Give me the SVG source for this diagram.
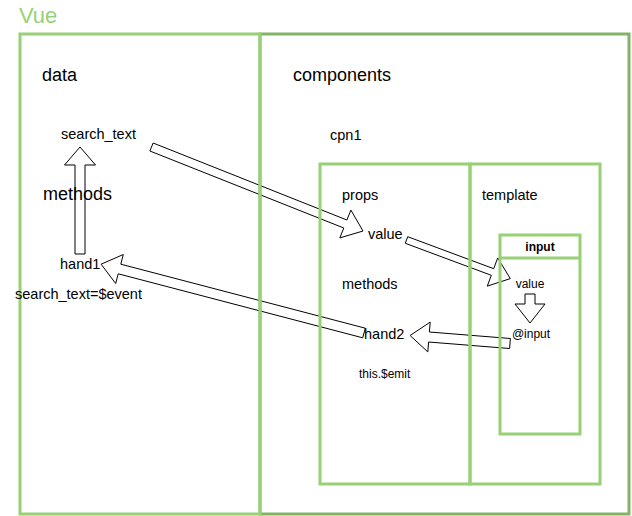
<svg xmlns="http://www.w3.org/2000/svg" width="632" height="516" viewBox="0 0 632 516">
<style>
.box{fill:none;stroke:#97d077;stroke-width:3}
.dark{fill:none;stroke:#82b366;stroke-width:3}
.arr{fill:#fff;stroke:#000;stroke-width:1}
text{font-family:"Liberation Sans",Arial,sans-serif;fill:#000}
.l{font-size:18px}
.m{font-size:14.5px}
.s{font-size:12px}
</style>
<rect width="632" height="516" fill="#fff"/>
<g id="connectors">
<polygon class="arr" points="153.1,143 346.9,220 350.9,210.1 363,231 339.8,237.9 343.8,228 149.9,151"/>
<polygon class="arr" points="407.7,236.7 493.7,268.7 497.7,257.9 510.3,278.6 487.3,286.1 491.3,275.3 405.3,243.3"/>
<polygon class="arr" points="525,294 535,294 535,304 545,304 530,323 515,304 525,304"/>
<polygon class="arr" points="510.4,338.5 429.4,332 430.2,322.1 410.1,335.5 427.8,351.9 428.6,342 509.6,348.5"/>
<polygon class="arr" points="365.3,328.2 120.8,264.2 123.3,254.5 101.1,264.2 115.7,283.5 118.2,273.8 362.7,337.8"/>
<polygon class="arr" points="75,254 85,254 85,165 95.5,165 80,147 64.5,165 75,165"/>
</g>
<g id="vue">
<text x="19" y="23" style="font-size:22px;fill:#97d077">Vue</text>
</g>
<g id="components">
<rect class="dark" x="260" y="34" width="369" height="480"/>
<text class="l" x="293" y="81">components</text>
<text class="m" x="330" y="140">cpn1</text>
</g>
<g id="root">
<rect class="box" x="20" y="34" width="240" height="480"/>
<text class="l" x="42" y="81">data</text>
<text class="m" x="61" y="139">search_text</text>
<text class="l" x="43" y="200">methods</text>
<text class="m" x="60" y="269">hand1</text>
<text class="m" x="15" y="299">search_text=$event</text>
</g>
<g id="cpn1-script">
<rect class="box" x="320" y="164" width="150" height="320"/>
<text class="m" x="342" y="200">props</text>
<text class="m" x="368" y="239">value</text>
<text class="m" x="342" y="289">methods</text>
<text class="m" x="364" y="339">hand2</text>
<text class="s" x="359" y="378">this.$emit</text>
</g>
<g id="cpn1-template">
<rect class="box" x="470" y="164" width="130" height="320"/>
<text class="m" x="482" y="200">template</text>
</g>
<g id="input">
<rect class="box" x="500" y="235" width="80" height="199"/>
<line class="box" x1="500" y1="258" x2="580" y2="258"/>
<text class="s" x="540" y="251" text-anchor="middle" font-weight="bold">input</text>
<text class="s" x="530" y="288" text-anchor="middle">value</text>
<text class="s" x="531" y="338" text-anchor="middle">@input</text>
</g>
</svg>
